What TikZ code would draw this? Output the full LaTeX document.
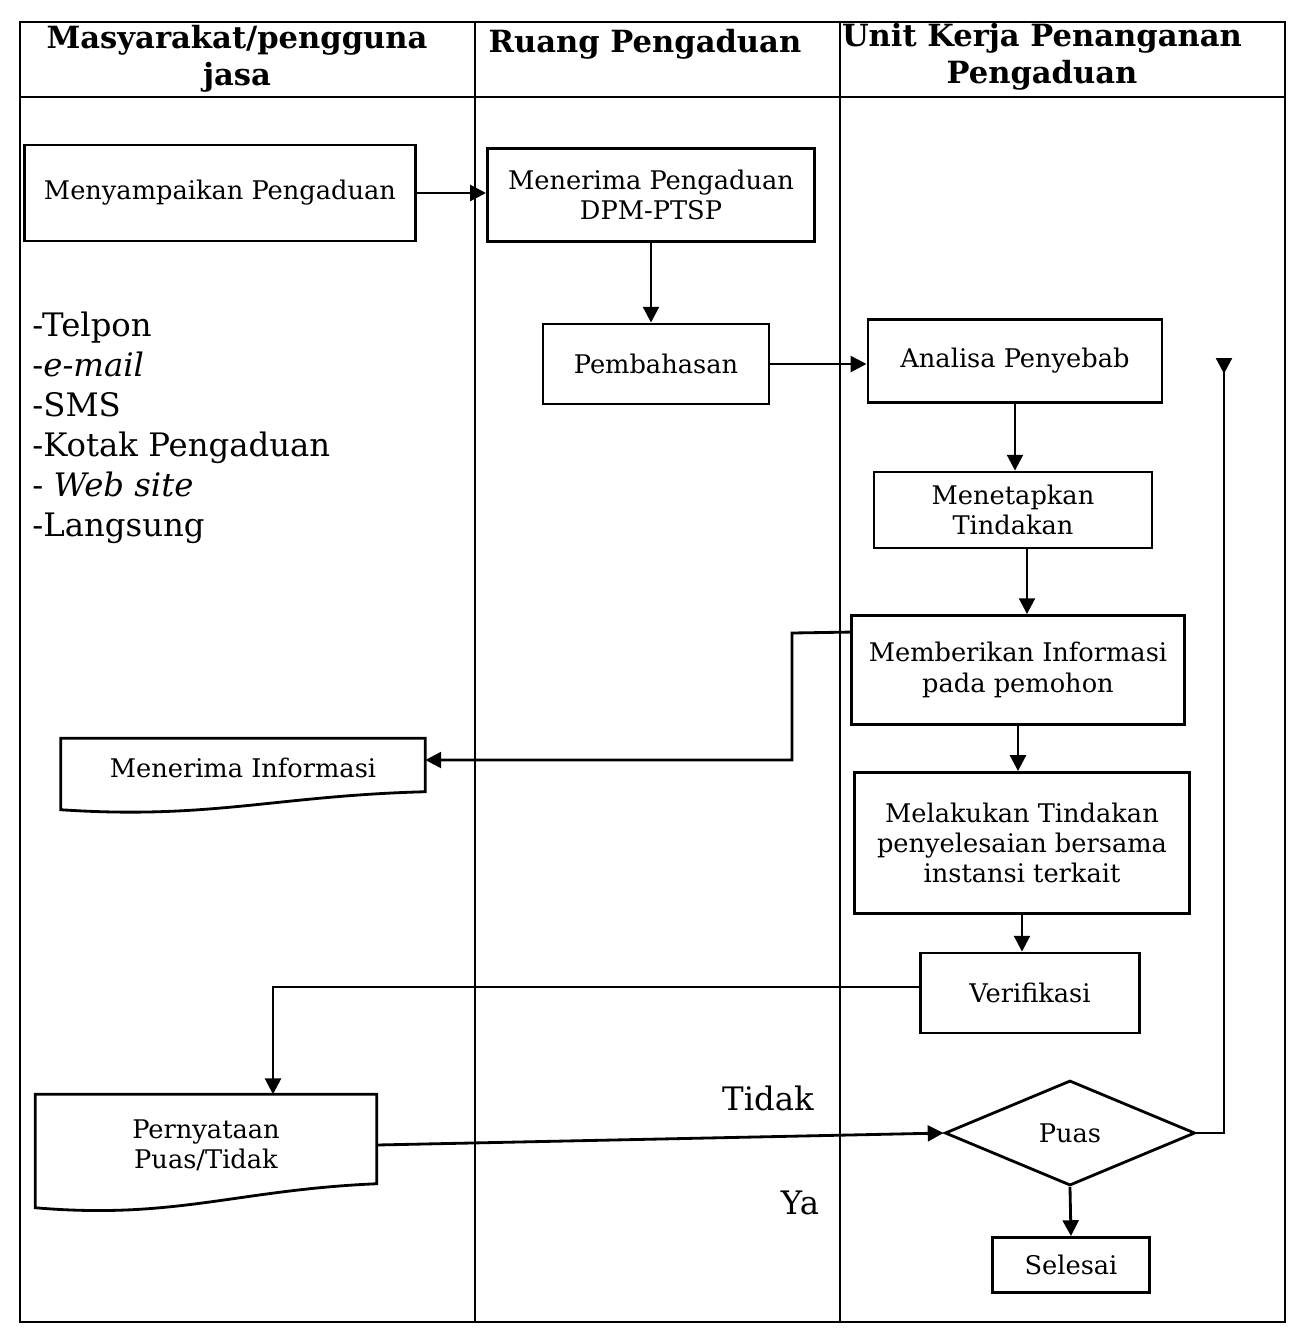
\documentclass[tikz,border=0pt]{standalone}
\usepackage{fontspec}
\setmainfont{DejaVu Serif}
\usetikzlibrary{arrows.meta,calc,shapes.geometric}

\begin{document}
\begin{tikzpicture}[x=0.01cm,y=-0.01cm]
        \tikzstyle{every node}=[font=\fontsize{7.3}{8.6}\selectfont, text=black, align=center]
        \tikzstyle{box}=[rectangle, draw=black, line width=0.8pt, inner sep=2pt]
        \tikzstyle{doc}=[rectangle, inner sep=2pt]
        \tikzstyle{lane}=[font=\fontsize{8.7}{10.5}\selectfont\bfseries]
        \tikzstyle{big}=[font=\fontsize{9.2}{11.4}\selectfont]
        \tikzstyle{edge}=[black, line width=0.8pt, -{Triangle[length=4.5pt,width=4.5pt]}]
        \useasboundingbox (0,0) rectangle (1305,1344);

        % frame and lanes
        \draw[line width=0.8pt] (20,22) rectangle (1285,1322);
        \draw[line width=0.8pt] (20,97) -- (1285,97);
        \draw[line width=0.8pt] (475,22) -- (475,1322);
        \draw[line width=0.8pt] (840,22) -- (840,1322);

        \node[lane] (h1) at (237,59)  {Masyarakat/pengguna\\jasa};
        \node[lane] (h2) at (645,44)  {Ruang Pengaduan};
        \node[lane] (h3) at (1042,57) {Unit Kerja Penanganan\\Pengaduan};

        \node[big, anchor=west, align=left] (media) at (20,428)
            {-Telpon\\-\textit{e-mail}\\-SMS\\-Kotak Pengaduan\\- \textit{Web site}\\-Langsung};

        \node[box, minimum width=3.9cm,  minimum height=0.96cm] (sampai)  at (220,193)  {Menyampaikan Pengaduan};
        \node[box, minimum width=3.27cm, minimum height=0.93cm] (terima)  at (651,195)  {Menerima Pengaduan\\DPM-PTSP};
        \node[box, minimum width=2.26cm, minimum height=0.8cm]  (bahas)   at (656,364)  {Pembahasan};
        \node[box, minimum width=2.94cm, minimum height=0.83cm] (analisa) at (1015,361) {Analisa Penyebab};
        \node[box, minimum width=2.78cm, minimum height=0.76cm] (tetap)   at (1013,510) {Menetapkan\\Tindakan};
        \node[box, minimum width=3.33cm, minimum height=1.09cm] (beri)    at (1018,670) {Memberikan Informasi\\pada pemohon};
        \node[box, minimum width=3.35cm, minimum height=1.41cm] (laku)    at (1022,843) {Melakukan Tindakan\\penyelesaian bersama\\instansi terkait};
        \node[box, minimum width=2.19cm, minimum height=0.8cm]  (verif)   at (1030,993) {Verifikasi};
        \node[diamond, draw=black, line width=0.8pt, inner sep=0pt, minimum width=2.5cm, minimum height=1.05cm] (puas) at (1070,1133) {Puas};
        \node[box, minimum width=1.57cm, minimum height=0.55cm] (selesai) at (1071,1265) {Selesai};

        \node[doc, minimum width=3.63cm, minimum height=0.58cm] (infor) at (243,768)  {Menerima Informasi};
        \node[doc, minimum width=3.4cm,  minimum height=1.0cm]  (nyata) at (206,1145) {Pernyataan\\Puas/Tidak};

        % document outlines
        \draw[line width=0.8pt] (infor.north west) -- (infor.north east) -- ($(infor.south east)+(0,-6)$)
            .. controls ($(infor.south east)+(-150,-2)$) and ($(infor.south west)+(150,22)$) .. ($(infor.south west)+(0,12)$) -- cycle;
        \draw[line width=0.8pt] (nyata.north west) -- (nyata.north east) -- ($(nyata.south east)+(0,-12)$)
            .. controls ($(nyata.south east)+(-140,-6)$) and ($(nyata.south west)+(140,24)$) .. ($(nyata.south west)+(0,12)$) -- cycle;

        \node[big] (tidak) at (768,1098) {Tidak};
        \node[big] (ya)    at (800,1203) {Ya};

        \draw[edge] (sampai.east) -- (sampai.east -| terima.west);
        \draw[edge] (terima.south) -- (terima.south |- bahas.north);
        \draw[edge] (bahas.east) -- (bahas.east -| analisa.west);
        \draw[edge] (analisa.south) -- (analisa.south |- tetap.north);
        \draw[edge] ($(tetap.south)+(14,0)$) -- ($(tetap.south |- beri.north)+(14,0)$);
        \draw[edge] (beri.south) -- (beri.south |- laku.north);
        \draw[edge] (laku.south) -- (laku.south |- verif.north);
        \draw[edge] ($(beri.north west)+(0,18)$) -- (792,633) |- ($(infor.east)+(0,-8)$);
        \draw[edge] ($(verif.west)+(0,-6)$) -| ($(nyata.north)+(67,0)$);
        \draw[edge] (nyata.east) -- (puas.west);
        \draw[edge] (puas.south) -- (selesai.north);

        \coordinate (balik) at (1224,358);
        \draw[line width=0.8pt, -{Triangle[reversed, length=4.5pt, width=4.5pt]}] (puas.east) -| (balik);
\end{tikzpicture}
\end{document}
